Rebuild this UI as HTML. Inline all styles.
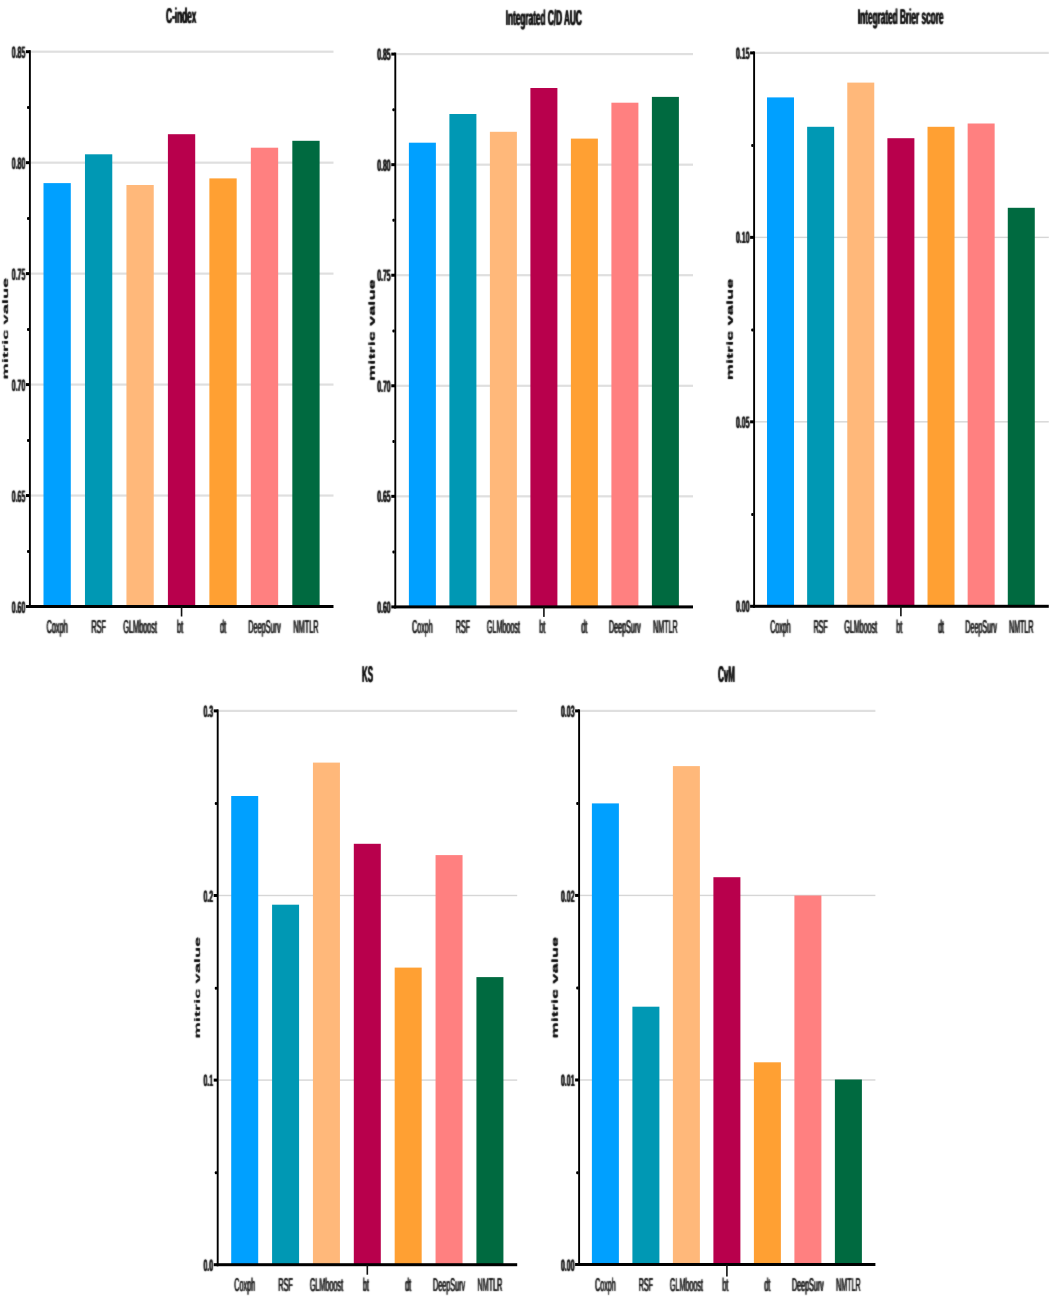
<!DOCTYPE html>
<html><head><meta charset="utf-8"><title>Model metrics</title>
<style>
html,body{margin:0;padding:0;background:#fff;}
svg{display:block;font-family:"Liberation Sans",sans-serif;fill:#0a0a0a;text-rendering:geometricPrecision;}
</style></head>
<body>
<svg width="1052" height="1298" viewBox="0 0 1052 1298">
<rect width="1052" height="1298" fill="#ffffff"/>
<defs><filter id="b" x="-2%" y="-2%" width="104%" height="104%"><feConvolveMatrix order="3" kernelMatrix="0.03 0.09 0.03 0.09 0.52 0.09 0.03 0.09 0.03" divisor="1" edgeMode="none" preserveAlpha="false"/></filter></defs>
<rect x="30.90" y="50.60" width="302.60" height="2.2" fill="#dfdfdf"/>
<rect x="30.90" y="161.56" width="302.60" height="2.2" fill="#dfdfdf"/>
<rect x="30.90" y="272.52" width="302.60" height="2.2" fill="#dfdfdf"/>
<rect x="30.90" y="383.48" width="302.60" height="2.2" fill="#dfdfdf"/>
<rect x="30.90" y="494.44" width="302.60" height="2.2" fill="#dfdfdf"/>
<rect x="43.50" y="183.10" width="27.3" height="423.40" fill="#00a0ff"/>
<rect x="84.97" y="154.30" width="27.3" height="452.20" fill="#0098b4"/>
<rect x="126.44" y="185.00" width="27.3" height="421.50" fill="#ffb87a"/>
<rect x="167.91" y="134.20" width="27.3" height="472.30" fill="#b8004c"/>
<rect x="209.38" y="178.40" width="27.3" height="428.10" fill="#ffa033"/>
<rect x="250.85" y="147.70" width="27.3" height="458.80" fill="#ff8080"/>
<rect x="292.32" y="140.80" width="27.3" height="465.70" fill="#006a40"/>
<rect x="28.95" y="50.20" width="1.9" height="557.80" fill="#000"/>
<rect x="28.90" y="605.00" width="304.60" height="3" fill="#000"/>
<rect x="25.90" y="50.20" width="4" height="3" fill="#000"/>
<rect x="25.90" y="161.16" width="4" height="3" fill="#000"/>
<rect x="25.90" y="272.12" width="4" height="3" fill="#000"/>
<rect x="25.90" y="383.08" width="4" height="3" fill="#000"/>
<rect x="25.90" y="494.04" width="4" height="3" fill="#000"/>
<rect x="25.90" y="605.00" width="4" height="3" fill="#000"/>
<rect x="27.00" y="106.08" width="2.4" height="3" rx="1" fill="#000"/>
<rect x="27.00" y="217.04" width="2.4" height="3" rx="1" fill="#000"/>
<rect x="27.00" y="328.00" width="2.4" height="3" rx="1" fill="#000"/>
<rect x="27.00" y="438.96" width="2.4" height="3" rx="1" fill="#000"/>
<rect x="27.00" y="549.92" width="2.4" height="3" rx="1" fill="#000"/>
<rect x="180.76" y="606.50" width="1.6" height="10" fill="#111"/>
<rect x="396.30" y="53.00" width="296.70" height="2.2" fill="#dfdfdf"/>
<rect x="396.30" y="163.56" width="296.70" height="2.2" fill="#dfdfdf"/>
<rect x="396.30" y="274.12" width="296.70" height="2.2" fill="#dfdfdf"/>
<rect x="396.30" y="384.68" width="296.70" height="2.2" fill="#dfdfdf"/>
<rect x="396.30" y="495.24" width="296.70" height="2.2" fill="#dfdfdf"/>
<rect x="408.90" y="142.70" width="27.0" height="464.20" fill="#00a0ff"/>
<rect x="449.40" y="114.00" width="27.0" height="492.90" fill="#0098b4"/>
<rect x="489.90" y="131.80" width="27.0" height="475.10" fill="#ffb87a"/>
<rect x="530.40" y="88.00" width="27.0" height="518.90" fill="#b8004c"/>
<rect x="570.90" y="138.60" width="27.0" height="468.30" fill="#ffa033"/>
<rect x="611.40" y="102.70" width="27.0" height="504.20" fill="#ff8080"/>
<rect x="651.90" y="96.90" width="27.0" height="510.00" fill="#006a40"/>
<rect x="394.35" y="52.60" width="1.9" height="555.80" fill="#000"/>
<rect x="394.30" y="605.40" width="298.70" height="3" fill="#000"/>
<rect x="391.30" y="52.60" width="4" height="3" fill="#000"/>
<rect x="391.30" y="163.16" width="4" height="3" fill="#000"/>
<rect x="391.30" y="273.72" width="4" height="3" fill="#000"/>
<rect x="391.30" y="384.28" width="4" height="3" fill="#000"/>
<rect x="391.30" y="494.84" width="4" height="3" fill="#000"/>
<rect x="391.30" y="605.40" width="4" height="3" fill="#000"/>
<rect x="392.40" y="108.28" width="2.4" height="3" rx="1" fill="#000"/>
<rect x="392.40" y="218.84" width="2.4" height="3" rx="1" fill="#000"/>
<rect x="392.40" y="329.40" width="2.4" height="3" rx="1" fill="#000"/>
<rect x="392.40" y="439.96" width="2.4" height="3" rx="1" fill="#000"/>
<rect x="392.40" y="550.52" width="2.4" height="3" rx="1" fill="#000"/>
<rect x="543.10" y="606.90" width="1.6" height="10" fill="#111"/>
<rect x="755.10" y="51.80" width="293.70" height="2.2" fill="#dfdfdf"/>
<rect x="755.10" y="236.67" width="293.70" height="1.4" fill="#d6d6d6"/>
<rect x="755.10" y="421.13" width="293.70" height="1.4" fill="#d6d6d6"/>
<rect x="767.00" y="97.40" width="27.0" height="508.90" fill="#00a0ff"/>
<rect x="807.13" y="126.80" width="27.0" height="479.50" fill="#0098b4"/>
<rect x="847.26" y="82.60" width="27.0" height="523.70" fill="#ffb87a"/>
<rect x="887.39" y="138.20" width="27.0" height="468.10" fill="#b8004c"/>
<rect x="927.52" y="126.80" width="27.0" height="479.50" fill="#ffa033"/>
<rect x="967.65" y="123.50" width="27.0" height="482.80" fill="#ff8080"/>
<rect x="1007.78" y="207.80" width="27.0" height="398.50" fill="#006a40"/>
<rect x="753.15" y="51.40" width="1.9" height="556.40" fill="#000"/>
<rect x="753.10" y="604.80" width="295.70" height="3" fill="#000"/>
<rect x="750.10" y="51.40" width="4" height="3" fill="#000"/>
<rect x="750.10" y="235.87" width="4" height="3" fill="#000"/>
<rect x="750.10" y="420.33" width="4" height="3" fill="#000"/>
<rect x="750.10" y="604.80" width="4" height="3" fill="#000"/>
<rect x="751.20" y="144.03" width="2.4" height="3" rx="1" fill="#000"/>
<rect x="751.20" y="328.50" width="2.4" height="3" rx="1" fill="#000"/>
<rect x="751.20" y="512.97" width="2.4" height="3" rx="1" fill="#000"/>
<rect x="900.09" y="606.30" width="1.6" height="10" fill="#111"/>
<rect x="218.70" y="709.80" width="298.50" height="2.2" fill="#dfdfdf"/>
<rect x="218.70" y="894.80" width="298.50" height="1.4" fill="#d6d6d6"/>
<rect x="218.70" y="1079.40" width="298.50" height="1.4" fill="#d6d6d6"/>
<rect x="231.20" y="796.00" width="27.0" height="468.70" fill="#00a0ff"/>
<rect x="272.07" y="904.70" width="27.0" height="360.00" fill="#0098b4"/>
<rect x="312.94" y="762.60" width="27.0" height="502.10" fill="#ffb87a"/>
<rect x="353.81" y="843.80" width="27.0" height="420.90" fill="#b8004c"/>
<rect x="394.68" y="967.60" width="27.0" height="297.10" fill="#ffa033"/>
<rect x="435.55" y="855.10" width="27.0" height="409.60" fill="#ff8080"/>
<rect x="476.42" y="977.10" width="27.0" height="287.60" fill="#006a40"/>
<rect x="216.75" y="709.40" width="1.9" height="556.80" fill="#000"/>
<rect x="216.70" y="1263.20" width="300.50" height="3" fill="#000"/>
<rect x="213.70" y="709.40" width="4" height="3" fill="#000"/>
<rect x="213.70" y="894.00" width="4" height="3" fill="#000"/>
<rect x="213.70" y="1078.60" width="4" height="3" fill="#000"/>
<rect x="213.70" y="1263.20" width="4" height="3" fill="#000"/>
<rect x="214.80" y="802.10" width="2.4" height="3" rx="1" fill="#000"/>
<rect x="214.80" y="986.70" width="2.4" height="3" rx="1" fill="#000"/>
<rect x="214.80" y="1171.30" width="2.4" height="3" rx="1" fill="#000"/>
<rect x="366.51" y="1264.70" width="1.6" height="10" fill="#111"/>
<rect x="580.10" y="709.80" width="295.30" height="2.2" fill="#dfdfdf"/>
<rect x="580.10" y="894.73" width="295.30" height="1.4" fill="#d6d6d6"/>
<rect x="580.10" y="1079.27" width="295.30" height="1.4" fill="#d6d6d6"/>
<rect x="591.90" y="803.40" width="27.0" height="461.10" fill="#00a0ff"/>
<rect x="632.40" y="1006.70" width="27.0" height="257.80" fill="#0098b4"/>
<rect x="672.90" y="766.10" width="27.0" height="498.40" fill="#ffb87a"/>
<rect x="713.40" y="877.20" width="27.0" height="387.30" fill="#b8004c"/>
<rect x="753.90" y="1062.30" width="27.0" height="202.20" fill="#ffa033"/>
<rect x="794.40" y="895.50" width="27.0" height="369.00" fill="#ff8080"/>
<rect x="834.90" y="1079.50" width="27.0" height="185.00" fill="#006a40"/>
<rect x="578.15" y="709.40" width="1.9" height="556.60" fill="#000"/>
<rect x="578.10" y="1263.00" width="297.30" height="3" fill="#000"/>
<rect x="575.10" y="709.40" width="4" height="3" fill="#000"/>
<rect x="575.10" y="893.93" width="4" height="3" fill="#000"/>
<rect x="575.10" y="1078.47" width="4" height="3" fill="#000"/>
<rect x="575.10" y="1263.00" width="4" height="3" fill="#000"/>
<rect x="576.20" y="802.07" width="2.4" height="3" rx="1" fill="#000"/>
<rect x="576.20" y="986.60" width="2.4" height="3" rx="1" fill="#000"/>
<rect x="576.20" y="1171.13" width="2.4" height="3" rx="1" fill="#000"/>
<rect x="726.10" y="1264.50" width="1.6" height="12" fill="#111"/>
<g filter="url(#b)">
<g transform="translate(-0.33,0)">
<text transform="translate(57.15,633.10) scale(0.395,1)" font-size="18.5" text-anchor="middle" font-weight="normal" >Coxph</text>
<text transform="translate(98.62,633.10) scale(0.395,1)" font-size="18.5" text-anchor="middle" font-weight="normal" >RSF</text>
<text transform="translate(140.09,633.10) scale(0.395,1)" font-size="18.5" text-anchor="middle" font-weight="normal" >GLMboost</text>
<text transform="translate(180.06,633.10) scale(0.395,1)" font-size="18.5" text-anchor="middle" font-weight="normal" >bt</text>
<text transform="translate(223.03,633.10) scale(0.395,1)" font-size="18.5" text-anchor="middle" font-weight="normal" >dt</text>
<text transform="translate(264.50,633.10) scale(0.395,1)" font-size="18.5" text-anchor="middle" font-weight="normal" >DeepSurv</text>
<text transform="translate(305.97,633.10) scale(0.395,1)" font-size="18.5" text-anchor="middle" font-weight="normal" >NMTLR</text>
<text transform="translate(181.20,22.80) scale(0.383,1)" font-size="21.5" text-anchor="middle" font-weight="bold" >C-index</text>
<text transform="translate(8.10,328.60) scale(0.43,1) rotate(-90)" font-size="18.3" text-anchor="middle" font-weight="bold">mitric value</text>
<text transform="translate(422.40,633.30) scale(0.3858,1)" font-size="18.5" text-anchor="middle" font-weight="normal" >Coxph</text>
<text transform="translate(462.90,633.30) scale(0.3858,1)" font-size="18.5" text-anchor="middle" font-weight="normal" >RSF</text>
<text transform="translate(503.40,633.30) scale(0.3858,1)" font-size="18.5" text-anchor="middle" font-weight="normal" >GLMboost</text>
<text transform="translate(542.40,633.30) scale(0.3858,1)" font-size="18.5" text-anchor="middle" font-weight="normal" >bt</text>
<text transform="translate(584.40,633.30) scale(0.3858,1)" font-size="18.5" text-anchor="middle" font-weight="normal" >dt</text>
<text transform="translate(624.90,633.30) scale(0.3858,1)" font-size="18.5" text-anchor="middle" font-weight="normal" >DeepSurv</text>
<text transform="translate(665.40,633.30) scale(0.3858,1)" font-size="18.5" text-anchor="middle" font-weight="normal" >NMTLR</text>
<text transform="translate(543.80,25.40) scale(0.383,1)" font-size="21.5" text-anchor="middle" font-weight="bold" >Integrated C/D AUC</text>
<text transform="translate(374.30,330.10) scale(0.43,1) rotate(-90)" font-size="18.3" text-anchor="middle" font-weight="bold">mitric value</text>
<text transform="translate(780.50,633.30) scale(0.3822,1)" font-size="18.5" text-anchor="middle" font-weight="normal" >Coxph</text>
<text transform="translate(820.63,633.30) scale(0.3822,1)" font-size="18.5" text-anchor="middle" font-weight="normal" >RSF</text>
<text transform="translate(860.76,633.30) scale(0.3822,1)" font-size="18.5" text-anchor="middle" font-weight="normal" >GLMboost</text>
<text transform="translate(899.39,633.30) scale(0.3822,1)" font-size="18.5" text-anchor="middle" font-weight="normal" >bt</text>
<text transform="translate(941.02,633.30) scale(0.3822,1)" font-size="18.5" text-anchor="middle" font-weight="normal" >dt</text>
<text transform="translate(981.15,633.30) scale(0.3822,1)" font-size="18.5" text-anchor="middle" font-weight="normal" >DeepSurv</text>
<text transform="translate(1021.28,633.30) scale(0.3822,1)" font-size="18.5" text-anchor="middle" font-weight="normal" >NMTLR</text>
<text transform="translate(900.70,23.80) scale(0.383,1)" font-size="21.5" text-anchor="middle" font-weight="bold" >Integrated Brier score</text>
<text transform="translate(732.60,329.50) scale(0.43,1) rotate(-90)" font-size="18.3" text-anchor="middle" font-weight="bold">mitric value</text>
<text transform="translate(244.70,1291.00) scale(0.3893,1)" font-size="18.5" text-anchor="middle" font-weight="normal" >Coxph</text>
<text transform="translate(285.57,1291.00) scale(0.3893,1)" font-size="18.5" text-anchor="middle" font-weight="normal" >RSF</text>
<text transform="translate(326.44,1291.00) scale(0.3893,1)" font-size="18.5" text-anchor="middle" font-weight="normal" >GLMboost</text>
<text transform="translate(365.81,1291.00) scale(0.3893,1)" font-size="18.5" text-anchor="middle" font-weight="normal" >bt</text>
<text transform="translate(408.18,1291.00) scale(0.3893,1)" font-size="18.5" text-anchor="middle" font-weight="normal" >dt</text>
<text transform="translate(449.05,1291.00) scale(0.3893,1)" font-size="18.5" text-anchor="middle" font-weight="normal" >DeepSurv</text>
<text transform="translate(489.92,1291.00) scale(0.3893,1)" font-size="18.5" text-anchor="middle" font-weight="normal" >NMTLR</text>
<text transform="translate(367.50,681.70) scale(0.349,1)" font-size="22.8" text-anchor="middle" font-weight="bold" >KS</text>
<text transform="translate(200.10,987.60) scale(0.43,1) rotate(-90)" font-size="18.3" text-anchor="middle" font-weight="bold">mitric value</text>
<text transform="translate(605.40,1291.00) scale(0.3858,1)" font-size="18.5" text-anchor="middle" font-weight="normal" >Coxph</text>
<text transform="translate(645.90,1291.00) scale(0.3858,1)" font-size="18.5" text-anchor="middle" font-weight="normal" >RSF</text>
<text transform="translate(686.40,1291.00) scale(0.3858,1)" font-size="18.5" text-anchor="middle" font-weight="normal" >GLMboost</text>
<text transform="translate(725.40,1291.00) scale(0.3858,1)" font-size="18.5" text-anchor="middle" font-weight="normal" >bt</text>
<text transform="translate(767.40,1291.00) scale(0.3858,1)" font-size="18.5" text-anchor="middle" font-weight="normal" >dt</text>
<text transform="translate(807.90,1291.00) scale(0.3858,1)" font-size="18.5" text-anchor="middle" font-weight="normal" >DeepSurv</text>
<text transform="translate(848.40,1291.00) scale(0.3858,1)" font-size="18.5" text-anchor="middle" font-weight="normal" >NMTLR</text>
<text transform="translate(726.50,681.60) scale(0.349,1)" font-size="22.8" text-anchor="middle" font-weight="bold" >CvM</text>
<text transform="translate(557.70,987.70) scale(0.43,1) rotate(-90)" font-size="18.3" text-anchor="middle" font-weight="bold">mitric value</text>
</g>
<g transform="translate(0.33,0)">
<text transform="translate(57.15,633.10) scale(0.395,1)" font-size="18.5" text-anchor="middle" font-weight="normal" >Coxph</text>
<text transform="translate(98.62,633.10) scale(0.395,1)" font-size="18.5" text-anchor="middle" font-weight="normal" >RSF</text>
<text transform="translate(140.09,633.10) scale(0.395,1)" font-size="18.5" text-anchor="middle" font-weight="normal" >GLMboost</text>
<text transform="translate(180.06,633.10) scale(0.395,1)" font-size="18.5" text-anchor="middle" font-weight="normal" >bt</text>
<text transform="translate(223.03,633.10) scale(0.395,1)" font-size="18.5" text-anchor="middle" font-weight="normal" >dt</text>
<text transform="translate(264.50,633.10) scale(0.395,1)" font-size="18.5" text-anchor="middle" font-weight="normal" >DeepSurv</text>
<text transform="translate(305.97,633.10) scale(0.395,1)" font-size="18.5" text-anchor="middle" font-weight="normal" >NMTLR</text>
<text transform="translate(181.20,22.80) scale(0.383,1)" font-size="21.5" text-anchor="middle" font-weight="bold" >C-index</text>
<text transform="translate(8.10,328.60) scale(0.43,1) rotate(-90)" font-size="18.3" text-anchor="middle" font-weight="bold">mitric value</text>
<text transform="translate(422.40,633.30) scale(0.3858,1)" font-size="18.5" text-anchor="middle" font-weight="normal" >Coxph</text>
<text transform="translate(462.90,633.30) scale(0.3858,1)" font-size="18.5" text-anchor="middle" font-weight="normal" >RSF</text>
<text transform="translate(503.40,633.30) scale(0.3858,1)" font-size="18.5" text-anchor="middle" font-weight="normal" >GLMboost</text>
<text transform="translate(542.40,633.30) scale(0.3858,1)" font-size="18.5" text-anchor="middle" font-weight="normal" >bt</text>
<text transform="translate(584.40,633.30) scale(0.3858,1)" font-size="18.5" text-anchor="middle" font-weight="normal" >dt</text>
<text transform="translate(624.90,633.30) scale(0.3858,1)" font-size="18.5" text-anchor="middle" font-weight="normal" >DeepSurv</text>
<text transform="translate(665.40,633.30) scale(0.3858,1)" font-size="18.5" text-anchor="middle" font-weight="normal" >NMTLR</text>
<text transform="translate(543.80,25.40) scale(0.383,1)" font-size="21.5" text-anchor="middle" font-weight="bold" >Integrated C/D AUC</text>
<text transform="translate(374.30,330.10) scale(0.43,1) rotate(-90)" font-size="18.3" text-anchor="middle" font-weight="bold">mitric value</text>
<text transform="translate(780.50,633.30) scale(0.3822,1)" font-size="18.5" text-anchor="middle" font-weight="normal" >Coxph</text>
<text transform="translate(820.63,633.30) scale(0.3822,1)" font-size="18.5" text-anchor="middle" font-weight="normal" >RSF</text>
<text transform="translate(860.76,633.30) scale(0.3822,1)" font-size="18.5" text-anchor="middle" font-weight="normal" >GLMboost</text>
<text transform="translate(899.39,633.30) scale(0.3822,1)" font-size="18.5" text-anchor="middle" font-weight="normal" >bt</text>
<text transform="translate(941.02,633.30) scale(0.3822,1)" font-size="18.5" text-anchor="middle" font-weight="normal" >dt</text>
<text transform="translate(981.15,633.30) scale(0.3822,1)" font-size="18.5" text-anchor="middle" font-weight="normal" >DeepSurv</text>
<text transform="translate(1021.28,633.30) scale(0.3822,1)" font-size="18.5" text-anchor="middle" font-weight="normal" >NMTLR</text>
<text transform="translate(900.70,23.80) scale(0.383,1)" font-size="21.5" text-anchor="middle" font-weight="bold" >Integrated Brier score</text>
<text transform="translate(732.60,329.50) scale(0.43,1) rotate(-90)" font-size="18.3" text-anchor="middle" font-weight="bold">mitric value</text>
<text transform="translate(244.70,1291.00) scale(0.3893,1)" font-size="18.5" text-anchor="middle" font-weight="normal" >Coxph</text>
<text transform="translate(285.57,1291.00) scale(0.3893,1)" font-size="18.5" text-anchor="middle" font-weight="normal" >RSF</text>
<text transform="translate(326.44,1291.00) scale(0.3893,1)" font-size="18.5" text-anchor="middle" font-weight="normal" >GLMboost</text>
<text transform="translate(365.81,1291.00) scale(0.3893,1)" font-size="18.5" text-anchor="middle" font-weight="normal" >bt</text>
<text transform="translate(408.18,1291.00) scale(0.3893,1)" font-size="18.5" text-anchor="middle" font-weight="normal" >dt</text>
<text transform="translate(449.05,1291.00) scale(0.3893,1)" font-size="18.5" text-anchor="middle" font-weight="normal" >DeepSurv</text>
<text transform="translate(489.92,1291.00) scale(0.3893,1)" font-size="18.5" text-anchor="middle" font-weight="normal" >NMTLR</text>
<text transform="translate(367.50,681.70) scale(0.349,1)" font-size="22.8" text-anchor="middle" font-weight="bold" >KS</text>
<text transform="translate(200.10,987.60) scale(0.43,1) rotate(-90)" font-size="18.3" text-anchor="middle" font-weight="bold">mitric value</text>
<text transform="translate(605.40,1291.00) scale(0.3858,1)" font-size="18.5" text-anchor="middle" font-weight="normal" >Coxph</text>
<text transform="translate(645.90,1291.00) scale(0.3858,1)" font-size="18.5" text-anchor="middle" font-weight="normal" >RSF</text>
<text transform="translate(686.40,1291.00) scale(0.3858,1)" font-size="18.5" text-anchor="middle" font-weight="normal" >GLMboost</text>
<text transform="translate(725.40,1291.00) scale(0.3858,1)" font-size="18.5" text-anchor="middle" font-weight="normal" >bt</text>
<text transform="translate(767.40,1291.00) scale(0.3858,1)" font-size="18.5" text-anchor="middle" font-weight="normal" >dt</text>
<text transform="translate(807.90,1291.00) scale(0.3858,1)" font-size="18.5" text-anchor="middle" font-weight="normal" >DeepSurv</text>
<text transform="translate(848.40,1291.00) scale(0.3858,1)" font-size="18.5" text-anchor="middle" font-weight="normal" >NMTLR</text>
<text transform="translate(726.50,681.60) scale(0.349,1)" font-size="22.8" text-anchor="middle" font-weight="bold" >CvM</text>
<text transform="translate(557.70,987.70) scale(0.43,1) rotate(-90)" font-size="18.3" text-anchor="middle" font-weight="bold">mitric value</text>
</g>
<g transform="translate(-0.25,0)">
<text transform="translate(25.30,57.80) scale(0.42,1)" font-size="16.5" text-anchor="end" font-weight="bold" >0.85</text>
<text transform="translate(25.30,168.76) scale(0.42,1)" font-size="16.5" text-anchor="end" font-weight="bold" >0.80</text>
<text transform="translate(25.30,279.72) scale(0.42,1)" font-size="16.5" text-anchor="end" font-weight="bold" >0.75</text>
<text transform="translate(25.30,390.68) scale(0.42,1)" font-size="16.5" text-anchor="end" font-weight="bold" >0.70</text>
<text transform="translate(25.30,501.64) scale(0.42,1)" font-size="16.5" text-anchor="end" font-weight="bold" >0.65</text>
<text transform="translate(25.30,612.60) scale(0.42,1)" font-size="16.5" text-anchor="end" font-weight="bold" >0.60</text>
<text transform="translate(390.70,60.20) scale(0.42,1)" font-size="16.5" text-anchor="end" font-weight="bold" >0.85</text>
<text transform="translate(390.70,170.76) scale(0.42,1)" font-size="16.5" text-anchor="end" font-weight="bold" >0.80</text>
<text transform="translate(390.70,281.32) scale(0.42,1)" font-size="16.5" text-anchor="end" font-weight="bold" >0.75</text>
<text transform="translate(390.70,391.88) scale(0.42,1)" font-size="16.5" text-anchor="end" font-weight="bold" >0.70</text>
<text transform="translate(390.70,502.44) scale(0.42,1)" font-size="16.5" text-anchor="end" font-weight="bold" >0.65</text>
<text transform="translate(390.70,613.00) scale(0.42,1)" font-size="16.5" text-anchor="end" font-weight="bold" >0.60</text>
<text transform="translate(749.50,59.00) scale(0.42,1)" font-size="16.5" text-anchor="end" font-weight="bold" >0.15</text>
<text transform="translate(749.50,243.47) scale(0.42,1)" font-size="16.5" text-anchor="end" font-weight="bold" >0.10</text>
<text transform="translate(749.50,427.93) scale(0.42,1)" font-size="16.5" text-anchor="end" font-weight="bold" >0.05</text>
<text transform="translate(749.50,612.40) scale(0.42,1)" font-size="16.5" text-anchor="end" font-weight="bold" >0.00</text>
<text transform="translate(213.10,717.00) scale(0.42,1)" font-size="16.5" text-anchor="end" font-weight="bold" >0.3</text>
<text transform="translate(213.10,901.60) scale(0.42,1)" font-size="16.5" text-anchor="end" font-weight="bold" >0.2</text>
<text transform="translate(213.10,1086.20) scale(0.42,1)" font-size="16.5" text-anchor="end" font-weight="bold" >0.1</text>
<text transform="translate(213.10,1270.80) scale(0.42,1)" font-size="16.5" text-anchor="end" font-weight="bold" >0.0</text>
<text transform="translate(574.50,717.00) scale(0.42,1)" font-size="16.5" text-anchor="end" font-weight="bold" >0.03</text>
<text transform="translate(574.50,901.53) scale(0.42,1)" font-size="16.5" text-anchor="end" font-weight="bold" >0.02</text>
<text transform="translate(574.50,1086.07) scale(0.42,1)" font-size="16.5" text-anchor="end" font-weight="bold" >0.01</text>
<text transform="translate(574.50,1270.60) scale(0.42,1)" font-size="16.5" text-anchor="end" font-weight="bold" >0.00</text>
</g>
<g transform="translate(0.25,0)">
<text transform="translate(25.30,57.80) scale(0.42,1)" font-size="16.5" text-anchor="end" font-weight="bold" >0.85</text>
<text transform="translate(25.30,168.76) scale(0.42,1)" font-size="16.5" text-anchor="end" font-weight="bold" >0.80</text>
<text transform="translate(25.30,279.72) scale(0.42,1)" font-size="16.5" text-anchor="end" font-weight="bold" >0.75</text>
<text transform="translate(25.30,390.68) scale(0.42,1)" font-size="16.5" text-anchor="end" font-weight="bold" >0.70</text>
<text transform="translate(25.30,501.64) scale(0.42,1)" font-size="16.5" text-anchor="end" font-weight="bold" >0.65</text>
<text transform="translate(25.30,612.60) scale(0.42,1)" font-size="16.5" text-anchor="end" font-weight="bold" >0.60</text>
<text transform="translate(390.70,60.20) scale(0.42,1)" font-size="16.5" text-anchor="end" font-weight="bold" >0.85</text>
<text transform="translate(390.70,170.76) scale(0.42,1)" font-size="16.5" text-anchor="end" font-weight="bold" >0.80</text>
<text transform="translate(390.70,281.32) scale(0.42,1)" font-size="16.5" text-anchor="end" font-weight="bold" >0.75</text>
<text transform="translate(390.70,391.88) scale(0.42,1)" font-size="16.5" text-anchor="end" font-weight="bold" >0.70</text>
<text transform="translate(390.70,502.44) scale(0.42,1)" font-size="16.5" text-anchor="end" font-weight="bold" >0.65</text>
<text transform="translate(390.70,613.00) scale(0.42,1)" font-size="16.5" text-anchor="end" font-weight="bold" >0.60</text>
<text transform="translate(749.50,59.00) scale(0.42,1)" font-size="16.5" text-anchor="end" font-weight="bold" >0.15</text>
<text transform="translate(749.50,243.47) scale(0.42,1)" font-size="16.5" text-anchor="end" font-weight="bold" >0.10</text>
<text transform="translate(749.50,427.93) scale(0.42,1)" font-size="16.5" text-anchor="end" font-weight="bold" >0.05</text>
<text transform="translate(749.50,612.40) scale(0.42,1)" font-size="16.5" text-anchor="end" font-weight="bold" >0.00</text>
<text transform="translate(213.10,717.00) scale(0.42,1)" font-size="16.5" text-anchor="end" font-weight="bold" >0.3</text>
<text transform="translate(213.10,901.60) scale(0.42,1)" font-size="16.5" text-anchor="end" font-weight="bold" >0.2</text>
<text transform="translate(213.10,1086.20) scale(0.42,1)" font-size="16.5" text-anchor="end" font-weight="bold" >0.1</text>
<text transform="translate(213.10,1270.80) scale(0.42,1)" font-size="16.5" text-anchor="end" font-weight="bold" >0.0</text>
<text transform="translate(574.50,717.00) scale(0.42,1)" font-size="16.5" text-anchor="end" font-weight="bold" >0.03</text>
<text transform="translate(574.50,901.53) scale(0.42,1)" font-size="16.5" text-anchor="end" font-weight="bold" >0.02</text>
<text transform="translate(574.50,1086.07) scale(0.42,1)" font-size="16.5" text-anchor="end" font-weight="bold" >0.01</text>
<text transform="translate(574.50,1270.60) scale(0.42,1)" font-size="16.5" text-anchor="end" font-weight="bold" >0.00</text>
</g>
</g>
</svg>
</body></html>
